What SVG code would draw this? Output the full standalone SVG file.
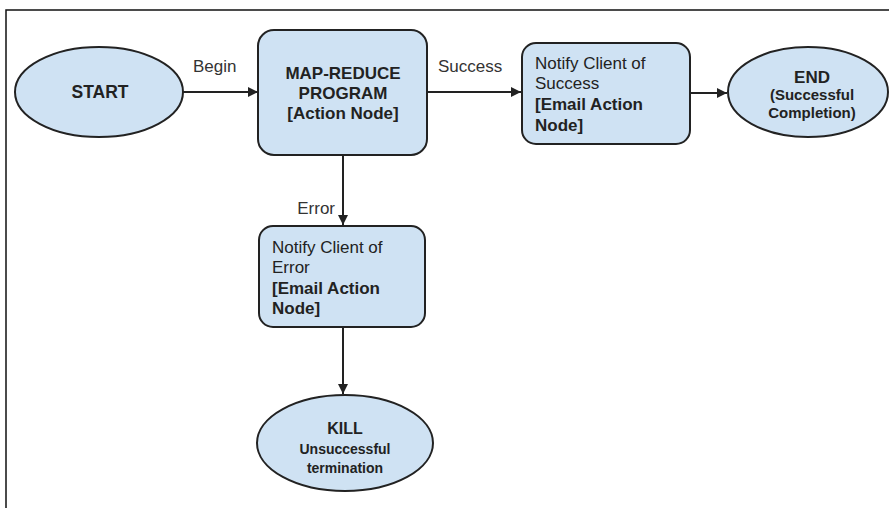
<svg xmlns="http://www.w3.org/2000/svg" width="889" height="508" viewBox="0 0 889 508">
<defs>
<style>
.node{fill:#cfe2f3;stroke:#222;stroke-width:2}
.t{font-family:"Liberation Sans",Arial,sans-serif;fill:#222}
.b{font-weight:bold}
.edge{stroke:#222;stroke-width:2;fill:none;marker-end:url(#arr)}
.lbl{font-family:"Liberation Sans",Arial,sans-serif;font-size:17px;fill:#333}
</style>
<marker id="arr" viewBox="0 0 10 10" refX="10" refY="5" markerWidth="5" markerHeight="5" orient="auto" markerUnits="strokeWidth">
<path d="M0,0 L10,5 L0,10 z" fill="#222"/>
</marker>
</defs>
<rect width="889" height="508" fill="#fff"/>
<path d="M6,508 V10 H889" fill="none" stroke="#111" stroke-width="1.5"/>
<g id="connectors">
<line class="edge" x1="183" y1="92" x2="258" y2="92"/>
<text class="lbl" x="193" y="72">Begin</text>
<line class="edge" x1="427" y1="92" x2="521" y2="92"/>
<text class="lbl" x="438" y="72">Success</text>
<line class="edge" x1="690" y1="93" x2="727" y2="93"/>
<line class="edge" x1="343" y1="155" x2="343" y2="225"/>
<text class="lbl" x="335" y="214" text-anchor="end">Error</text>
<line class="edge" x1="343" y1="327" x2="343" y2="394"/>
</g>
<g id="start">
<ellipse class="node" cx="99" cy="92" rx="84" ry="45"/>
<text class="t b" x="100" y="98" font-size="17.5" text-anchor="middle">START</text>
</g>
<g id="mapreduce">
<rect class="node" x="258" y="30" width="169" height="125" rx="16"/>
<text class="t b" x="343" y="79" font-size="17" text-anchor="middle">MAP-REDUCE</text>
<text class="t b" x="343" y="99" font-size="17" text-anchor="middle">PROGRAM</text>
<text class="t b" x="343" y="119" font-size="17" text-anchor="middle">[Action Node]</text>
</g>
<g id="notify-success">
<rect class="node" x="522" y="43" width="168" height="101" rx="14"/>
<text class="t" x="535" y="69" font-size="17">Notify Client of</text>
<text class="t" x="535" y="89" font-size="17">Success</text>
<text class="t b" x="535" y="110" font-size="17">[Email Action</text>
<text class="t b" x="535" y="131" font-size="17">Node]</text>
</g>
<g id="end">
<ellipse class="node" cx="808" cy="92" rx="80" ry="45"/>
<text class="t b" x="812" y="83" font-size="17" text-anchor="middle">END</text>
<text class="t b" x="812" y="100" font-size="15" text-anchor="middle">(Successful</text>
<text class="t b" x="812" y="118" font-size="15" text-anchor="middle">Completion)</text>
</g>
<g id="notify-error">
<rect class="node" x="259" y="226" width="166" height="101" rx="14"/>
<text class="t" x="272" y="253" font-size="17">Notify Client of</text>
<text class="t" x="272" y="273" font-size="17">Error</text>
<text class="t b" x="272" y="294" font-size="17">[Email Action</text>
<text class="t b" x="272" y="314" font-size="17">Node]</text>
</g>
<g id="kill">
<ellipse class="node" cx="345" cy="443" rx="88" ry="48"/>
<text class="t b" x="345" y="434" font-size="16" text-anchor="middle">KILL</text>
<text class="t b" x="345" y="454" font-size="14" text-anchor="middle">Unsuccessful</text>
<text class="t b" x="345" y="473" font-size="14" text-anchor="middle">termination</text>
</g>
</svg>
